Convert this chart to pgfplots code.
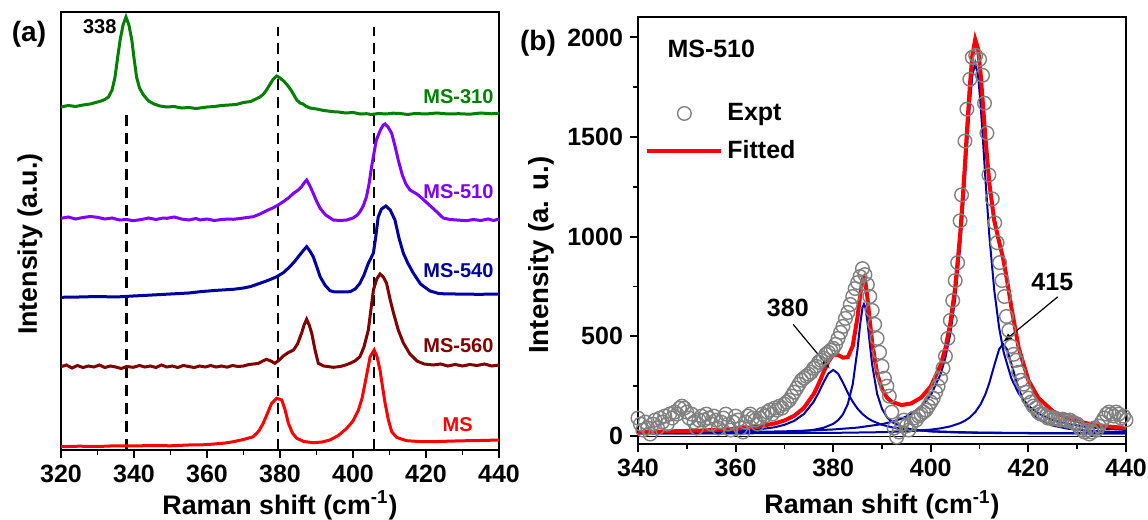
\documentclass[border=0pt]{standalone}
\usepackage{fontspec}
\setmainfont{Liberation Sans}
\usepackage{pgfplots}
\pgfplotsset{compat=1.18}
\definecolor{msgreen}{RGB}{0,128,0}
\definecolor{mspurple}{RGB}{128,0,255}
\definecolor{msnavy}{RGB}{0,0,160}
\definecolor{msdred}{RGB}{128,0,0}
\definecolor{msred}{RGB}{255,0,0}
\definecolor{fitblue}{RGB}{0,0,170}
\definecolor{exptgray}{RGB}{128,128,128}
\newcommand{\tickfont}{\fontsize{12.5}{15}\selectfont\bfseries}
\newcommand{\labfont}{\fontsize{13.4}{16}\selectfont\bfseries}
\newcommand{\msfont}{\fontsize{10}{12}\selectfont\bfseries}
\pgfplotsset{
  myaxis/.style={
    scale only axis,
    anchor=south west,
    axis line style={line width=1pt},
    tick align=outside,
    xtick pos=left, ytick pos=left,
    major tick length=4pt, minor tick length=2.5pt,
    every tick/.style={black, line width=1pt},
    minor tick style={black, line width=0.8pt},
    tick label style={font=\tickfont},
    label style={font=\labfont},
    /pgf/number format/assume math mode=true,
  },
  dashv/.style={black, line width=1.2pt, dash pattern=on 5.5pt off 3.5pt},
}
\begin{document}
\begin{tikzpicture}
\useasboundingbox (0,0) rectangle (574pt,260pt);
% ---------------- panel (a)
\begin{axis}[myaxis,
  at={(30.5pt,35pt)}, width=219pt, height=219pt,
  xmin=320, xmax=440, ymin=0, ymax=438,
  xtick={320,340,360,380,400,420,440},
  xticklabels={320,340,360,380,400,420,440},
  minor x tick num=1,
  ytick=\empty,
  xlabel={Raman shift (cm\textsuperscript{-1})},
  ylabel={Intensity (a.u.)},
  xlabel style={at={(axis description cs:0.5,-0.126)}, anchor=center},
  ylabel style={at={(axis description cs:-0.071,0.47)}, anchor=center},
]
\addplot[dashv] coordinates {(338,0)(338,340)};
\addplot[dashv] coordinates {(379.5,0)(379.5,423)};
\addplot[dashv] coordinates {(405.8,0)(405.8,423)};
% MS-310
\addplot[msgreen, line width=1.5pt] coordinates {
(320,343)(322,344.5)(324,343.5)(326,345)(328,346)(330,348)(331,349)(332,350.5)(333,353)(334,360)(334.8,373)(335.5,392)(336.2,410)(337,425)(337.8,433)(338.6,425)(339.4,410)(340,392)(340.7,373)(341.5,362)(342.6,355)(344,349)(345.5,346)(347.1,344)(349,343)(351,343.5)(353,342)(355,342.5)(357,341.5)(358.1,342)(360,343)(362,343.5)(364,344.5)(366,345)(368,345.5)(370,347.5)(372,348.5)(374.5,353)(375.5,356)(376.3,360)(377.3,366)(378.2,371)(379.1,374)(380,372)(381,369)(381.8,366)(383,360)(384.6,350)(385.5,347)(386.3,346)(387,344)(388.2,342)(390,341)(392,339.5)(394.6,338.3)(396,338)(398,337)(400,337.5)(402,336)(403.7,336.3)(405,335.5)(407,336.5)(409,336)(411,336.8)(412.9,336.5)(415,335.5)(417,336.5)(420,336)(423,337)(426,336)(429,336.3)(432,335.8)(435,337)(438,336.2)(440,336.8)};
% MS-510
\addplot[mspurple, line width=1.5pt] coordinates {
(320,231.7)(322,233)(324,231)(326,232.5)(328,233.5)(330,232.7)(332,231)(334,232)(336,230)(338,230.5)(339.8,229.3)(342,230.5)(344,232)(346,230.5)(348,232)(349,231.7)(351,233)(353,231)(355,230)(357,231.5)(358.1,230)(360,231)(362,229.5)(364,230.5)(366,231)(367.2,230.7)(369,231.5)(371,232.5)(372.7,233.3)(374.5,236)(376.3,239.3)(378,242)(379.5,245)(380.9,248.3)(382.3,252)(383.7,256.7)(385,260)(385.9,263.3)(386.6,267)(387.3,270)(388.2,264)(389.1,256.7)(390,249)(391,241.7)(392.5,235)(394.6,230)(396.5,229.5)(398.3,230)(400,232)(401.2,235)(401.9,238.3)(402.8,244)(403.7,253.3)(404.4,266)(405.1,283.3)(405.8,298)(406.4,310)(407.5,320)(408.3,325)(408.8,326)(409.6,323)(410.6,316.7)(411.5,304)(412.4,290)(413.5,275)(414.5,266)(415.6,260)(417.5,256)(418.5,253)(420,248)(421.5,243)(423,238)(424.7,232)(426.6,230.5)(428.5,230)(431.1,229.3)(433,230.5)(435,229.5)(437,231)(438.5,229.5)(440,231)};
% MS-540
\addplot[msnavy, line width=1.5pt] coordinates {
(320,152.7)(325,153)(330,153.5)(335,153)(339.8,154)(345,155)(350,156)(355,157)(358.1,158.3)(362,159.5)(365,160.2)(367.2,160.7)(370,162)(372,163.5)(374.5,166.7)(377,170)(379.1,173.3)(381,177.5)(382.7,183.3)(384,188.5)(385.4,195)(386.5,200)(387.3,203.3)(388.2,199)(389.1,193.3)(390,184)(391,173.3)(392.3,165)(393.7,159.3)(395,158)(397,158)(399.2,158.3)(400.6,161)(401.9,166.7)(403,175)(404.2,186.7)(405.6,197)(406.3,215)(406.9,233)(407.8,241)(409,244)(410.2,240)(411.5,230)(412.6,212)(413.8,196.7)(415,187)(416.5,177)(418.5,166)(421.1,159)(423.5,156.5)(425.7,156)(428,156)(431.1,155.8)(435,155.7)(440,156)};
% MS-560
\addplot[msdred, line width=1.5pt] coordinates {
(320,83.3)(321.5,85)(323,82)(324.5,84.5)(326,82.5)(327.5,84)(329,83)(330.5,85)(332,82.5)(333.5,84)(335,83)(336.5,81.5)(338,83.5)(339.8,82.7)(341.5,84.5)(343,83)(344.5,84)(346,82.5)(347.5,85)(349,83)(350.5,84)(352,82.5)(353.5,84.5)(355,83.5)(356.5,82.5)(358,84)(359.5,83)(361,84.5)(362.5,83)(364,84)(365.5,82.8)(367,84.5)(368.5,83.5)(370,84)(371.5,85.5)(372.7,86)(374,86.5)(375.3,89)(376.3,90.7)(377.5,89)(378.6,86.7)(379.8,90)(380.9,94)(382.3,97.5)(383.7,100)(384.8,106)(385.9,116.7)(386.6,125)(387.3,130.7)(388,125)(388.7,116.7)(389.6,100)(390.5,86.7)(392,84)(394.6,82.7)(396.5,83.5)(398,85)(399.2,86.7)(400.5,89)(401.9,93.3)(403,103)(404.2,120)(404.9,140)(405.6,160)(406.5,171)(407.4,176)(408.3,173)(409.2,166.7)(410.2,150)(411.1,137)(412.4,120)(413.8,107)(415.6,96)(417.5,89)(419.5,86)(422,85)(424,86)(426,84)(428,85.5)(430,84)(432,85.5)(434,84.5)(436,86)(438,84)(440,85)};
% MS
\addplot[msred, line width=1.5pt] coordinates {
(320,3.3)(325,3.8)(330,3.5)(335,4.2)(339.8,4)(345,4.5)(350,4.2)(355,5)(358.1,5)(362,6)(365,7)(367.2,8.3)(370,10.5)(372.7,13.3)(374.2,19)(375.4,26.7)(376.6,37)(377.7,46.7)(379.1,51.7)(380.5,50)(381.4,40)(382.3,26.7)(383.4,17)(384.6,11.7)(386.5,8.5)(389.1,7.3)(391.5,8)(393.7,10)(396,14.5)(398.3,21.7)(400,29)(401.5,40)(402.5,52)(403.3,66.7)(404,80)(404.7,93.3)(405.8,100)(406.6,93)(407.4,80)(408.1,63)(408.8,46.7)(409.7,30)(410.6,18.3)(412,12.5)(414.7,9.3)(418,8.5)(422,8.3)(426,8.8)(430,9.2)(435,9.5)(440,10)};
\node[anchor=east, inner sep=0pt, font=\msfont] at (axis cs:335.3,423) {338};
\node[anchor=east, inner sep=0pt, text=msgreen, font=\msfont] at (axis cs:438.6,353) {MS-310};
\node[anchor=east, inner sep=0pt, text=mspurple, font=\msfont] at (axis cs:438.6,258) {MS-510};
\node[anchor=east, inner sep=0pt, text=msnavy, font=\msfont] at (axis cs:438.6,179.5) {MS-540};
\node[anchor=east, inner sep=0pt, text=msdred, font=\msfont] at (axis cs:438.6,104.5) {MS-560};
\node[anchor=east, inner sep=0pt, text=msred, font=\msfont] at (axis cs:432.9,25) {MS};
\end{axis}
% ---------------- panel (b)
\begin{axis}[myaxis,
  at={(319pt,38pt)}, width=244pt, height=213.25pt,
  xmin=340, xmax=440, ymin=-40, ymax=2100,
  xtick={340,360,380,400,420,440},
  xticklabels={340,360,380,400,420,440},
  minor x tick num=1,
  ytick={0,500,1000,1500,2000},
  yticklabels={0,500,1000,1500,2000},
  minor y tick num=1,
  xlabel={Raman shift (cm\textsuperscript{-1})},
  ylabel={Intensity (a. u.)},
  xlabel style={at={(axis description cs:0.5,-0.143)}, anchor=center},
  ylabel style={at={(axis description cs:-0.197,0.443)}, anchor=center, font=\fontsize{13.8}{16}\selectfont\bfseries},
  legend style={at={(0.0143,0.809)}, anchor=north west, draw=none, fill=none,
    font=\tickfont, row sep=4.5pt, inner sep=0pt},
  legend cell align=left,
  legend image code/.code={\draw[mark repeat=2,mark phase=2,#1] plot coordinates {(0pt,0pt) (18.5pt,0pt) (37pt,0pt)};},
]
\addplot[only marks, mark=o, mark size=3.4pt, exptgray, mark options={line width=0.7pt}] coordinates {
(340.0,90)(340.5,60)(341.0,30)(341.5,70)(342.0,40)(342.5,10)(343.0,60)(343.5,80)(344.0,40)(344.5,90)
(345.0,70)(345.5,100)(346.0,60)(346.5,110)(347.0,90)(347.5,120)(348.0,110)(348.5,140)(349.0,150)(349.5,140)
(350.0,120)(350.5,90)(351.0,110)(351.5,70)(352.0,40)(352.5,80)(353.0,100)(353.5,80)(354.0,110)(354.5,90)
(355.0,60)(355.5,100)(356.0,80)(356.5,40)(357.0,70)(357.5,90)(358.0,110)(358.5,60)(359.0,30)(359.5,70)
(360.0,100)(360.5,80)(361.0,40)(361.5,20)(362.0,70)(362.5,100)(363.0,110)(363.5,90)(364.0,80)(364.5,60)
(365.0,90)(365.5,110)(366.0,100)(366.5,120)(367.0,130)(367.5,110)(368.0,140)(368.5,130)(369.0,150)(369.5,140)
(370.0,160)(370.5,170)(371.0,180)(371.5,200)(372.0,220)(372.5,240)(373.0,260)(373.5,280)(374.0,290)(374.5,300)
(375.0,310)(375.5,320)(376.0,340)(376.5,350)(377.0,370)(377.5,380)(378.0,390)(378.5,410)(379.0,420)(379.5,430)
(380.0,440)(380.5,460)(381.0,490)(381.5,520)(382.0,550)(382.5,590)(383.0,620)(383.5,660)(384.0,700)(384.5,740)
(385.0,770)(385.5,800)(386.0,840)(386.5,810)(387.0,760)(387.5,700)(388.0,630)(388.5,560)(389.0,490)(389.5,420)
(390.0,350)(390.5,290)(391.0,250)(391.5,200)(392.0,120)(392.5,40)(393.0,-5)(393.5,20)(394.0,60)(394.5,80)
(395.0,50)(395.5,30)(396.0,60)(396.5,90)(397.0,80)(397.5,100)(398.0,110)(398.5,120)(399.0,130)(399.5,150)
(400.0,170)(400.5,190)(401.0,220)(401.5,250)(402.0,290)(402.5,340)(403.0,400)(403.5,490)(404.0,580)(404.5,680)
(405.0,780)(405.5,870)(406.0,1080)(406.3,1210)(407.0,1480)(407.4,1640)(408.0,1790)(408.5,1900)(409.2,1910)(410.0,1890)
(410.6,1810)(411.0,1670)(411.5,1520)(411.9,1310)(412.6,1190)(413.1,1070)(413.6,970)(414.1,870)(414.6,780)(415.1,700)
(415.5,600)(416.0,530)(416.5,450)(417.0,410)(417.5,380)(418.0,320)(418.5,280)(419.0,260)(419.5,220)(420.0,190)
(420.5,170)(421.0,150)(421.5,140)(422.0,120)(422.5,110)(423.0,110)(423.5,100)(424.0,90)(424.5,95)(425.0,85)
(425.5,90)(426.0,85)(426.5,80)(427.0,85)(427.5,80)(428.0,75)(428.5,80)(429.0,70)(429.5,65)(430.0,60)
(430.5,40)(431.0,30)(431.5,20)(432.0,30)(432.5,10)(433.0,20)(433.5,40)(434.0,30)(434.5,50)(435.0,70)
(435.5,90)(436.0,110)(436.5,120)(437.0,110)(437.5,100)(438.0,120)(438.5,110)(439.0,90)(439.5,100)(440.0,80)};
\addlegendentry{Expt}
\addplot[black, line width=0.5pt, forget plot] coordinates {(340,0)(440,0)};
% component 380
\addplot[fitblue, line width=1pt, forget plot] coordinates {
(340,15.2)(345,16.1)(350,17.6)(355,20)(360,24.3)(364,30.8)(368,44)(370,56.1)(372,76)(374,110.5)(376,172)(377,216.8)(378,268)(379,313)(380,332)(381,313)(382,268)(383,216.8)(384,172)(385,136.9)(386,110.5)(387,90.8)(388,76)(390,56.1)(392,44)(394,36.2)(396,30.8)(400,24.3)(405,20)(410,17.5)(420,15.2)(430,14)(440,13.4)};
% component 386
\addplot[fitblue, line width=1pt, forget plot] coordinates {
(340,13)(350,13.6)(360,15)(365,16.6)(370,19.8)(374,25.6)(376,31.3)(378,41.2)(380,61.1)(381,79.2)(382,108.9)(383,161)(384,258.9)(385,439.2)(385.5,554.8)(386,644.4)(386.3,662)(386.6,644.4)(387,576.6)(387.5,462)(388,355.6)(389,212)(390,136.4)(391,95.1)(392,70.9)(394,45.7)(396,33.6)(400,23)(405,18)(410,15.7)(420,13.9)(430,13.1)(440,12.7)};
% component 409
\addplot[fitblue, line width=1pt, forget plot] coordinates {
(340,15.7)(350,17.1)(360,19.4)(370,23.6)(375,27.3)(380,32.9)(385,42.3)(390,59.7)(392,71.2)(394,87.2)(396,110.6)(398,146.6)(400,205.5)(402,309.8)(403,393.8)(404,513.8)(405,688.6)(406,942)(406.5,1104)(407,1287)(407.5,1480.8)(408,1664)(408.5,1804.9)(409.1,1872)(409.7,1804.9)(410.2,1664)(410.7,1480.8)(411.2,1287)(412,1004)(413,732.2)(414,543.7)(414.8,436.6)(415,414.4)(416.5,289.7)(418,213.2)(420,151.2)(422,113.6)(425,80.1)(428,60.7)(432,45.5)(436,36.4)(440,30.5)};
% component 415
\addplot[fitblue, line width=1pt, forget plot] coordinates {
(340,12.8)(360,13.5)(380,15.8)(390,19.4)(395,23.5)(400,32.1)(402,38.5)(404,48.3)(406,64.6)(407,76.8)(408,93.6)(409.1,119.8)(410.2,158.8)(411.2,210.6)(412,266.9)(413,353.8)(414,435.5)(414.8,462)(415.6,435.5)(416.5,363)(418,237)(419,177.3)(420,135.6)(422,86.2)(425,52.3)(428,37)(432,27.1)(436,22)(440,19.1)};
% fitted sum
\addplot[msred, line width=2pt] coordinates {
(340,20.7)(345,22.6)(350,25.4)(355,29.5)(360,36.2)(364,45.5)(368,62.8)(370,77.8)(372,101.5)(374,141.3)(376,210.5)(377,260.7)(378,318.9)(379,373.4)(380,405.8)(381,406.6)(382,393.1)(383,396.2)(384,451.6)(385,599.5)(385.5,702.3)(386,781.3)(386.3,793.3)(386.6,770.7)(387,697.2)(387.5,576.5)(388,465.2)(389,314.8)(390,235.6)(391,193.5)(392,170.8)(394,155.5)(396,163.7)(398,192.5)(400,248.9)(402,354.9)(403,441.5)(404,565.4)(405,745.9)(406,1007.4)(406.5,1174.4)(407,1363.6)(407.5,1564.6)(408,1756.4)(408.5,1907.7)(409.1,1989.7)(409.7,1941.5)(410.2,1820)(410.7,1660.1)(411.2,1494.2)(412,1267)(413,1081.5)(414,974.3)(414.8,893.4)(415.6,786.6)(416.5,646.8)(418,443.8)(420,279.9)(422,192.3)(425,124.3)(428,89.1)(432,63.5)(436,48.9)(440,39.7)};
\addlegendentry{Fitted}
\node[anchor=west, font=\tickfont] at (axis cs:344.6,1943) {MS-510};
\node[font=\tickfont] at (axis cs:370.7,642) {380};
\draw[-latex, line width=0.6pt] (axis cs:371.8,560) -- (axis cs:379.3,339);
\node[font=\tickfont] at (axis cs:424.9,774) {415};
\draw[-latex, line width=0.6pt] (axis cs:426,698) -- (axis cs:414.8,472);
\end{axis}
\node[font=\fontsize{14}{16}\selectfont\bfseries] at (14.5pt,243pt) {(a)};
\node[font=\fontsize{14}{16}\selectfont\bfseries] at (269pt,238.5pt) {(b)};
\end{tikzpicture}
\end{document}
